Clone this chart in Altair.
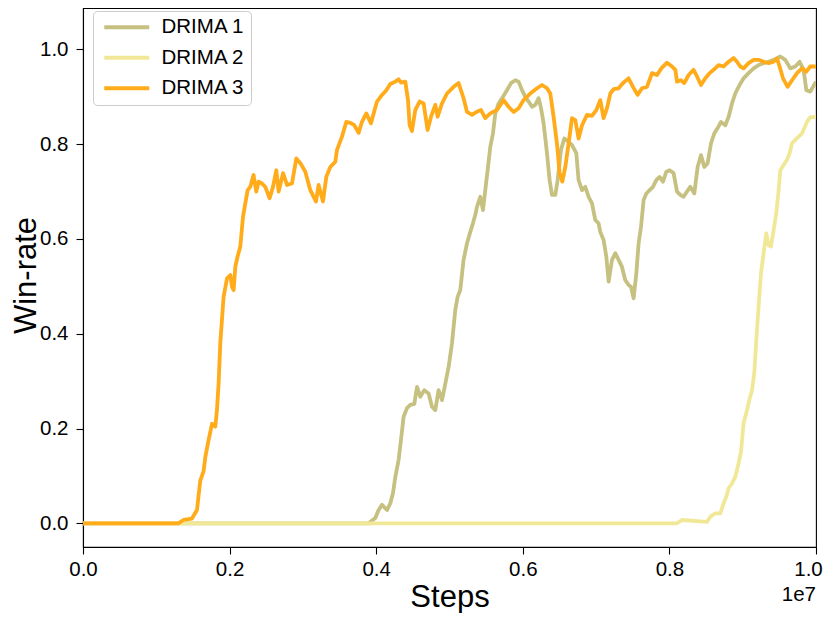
import altair as alt
import pandas as pd

series_names = ["DRIMA 1", "DRIMA 2", "DRIMA 3"]
series_colors = ["#c6c181", "#f1e897", "#ffab1a"]

# Steps in units of 1e7
drima1_steps = [0.0, 0.39, 0.392, 0.3988, 0.4033, 0.4079, 0.4147, 0.4192, 0.4229, 0.4261, 0.4306, 0.4338,
                0.4374, 0.442, 0.4465, 0.452, 0.4557, 0.4602, 0.4656, 0.4715, 0.4761, 0.4806, 0.4851, 0.4898,
                0.4943, 0.4988, 0.5034, 0.5079, 0.5111, 0.5147, 0.5192, 0.5239, 0.5284, 0.532, 0.5352, 0.5375,
                0.542, 0.5457, 0.5488, 0.552, 0.5557, 0.5593, 0.5625, 0.567, 0.573, 0.5784, 0.5839, 0.5898,
                0.5943, 0.5989, 0.6034, 0.6079, 0.6126, 0.617, 0.6216, 0.6248, 0.6284, 0.633, 0.6366, 0.6398,
                0.6443, 0.6475, 0.6521, 0.6566, 0.6625, 0.6671, 0.673, 0.6761, 0.6808, 0.6853, 0.6898, 0.6944,
                0.6989, 0.7034, 0.7057, 0.7102, 0.7139, 0.7171, 0.7217, 0.7262, 0.7307, 0.7353, 0.7398, 0.7443,
                0.7476, 0.7512, 0.7549, 0.758, 0.7613, 0.7648, 0.7685, 0.773, 0.7776, 0.7821, 0.7866, 0.7913,
                0.7958, 0.8003, 0.8057, 0.8104, 0.8149, 0.8194, 0.824, 0.8285, 0.834, 0.8385, 0.8431, 0.8476,
                0.8521, 0.8568, 0.8613, 0.8658, 0.8704, 0.8763, 0.8808, 0.8854, 0.8899, 0.8958, 0.9012, 0.908,
                0.9149, 0.9217, 0.9285, 0.9353, 0.9422, 0.9513, 0.9581, 0.9649, 0.9718, 0.9776, 0.9831, 0.9868,
                0.9922, 1.0]
drima1_winrate = [0.0, 0.0, 0.003, 0.011, 0.028, 0.039, 0.028, 0.042, 0.064, 0.098, 0.134, 0.176,
                  0.225, 0.243, 0.25, 0.252, 0.288, 0.267, 0.281, 0.274, 0.246, 0.239, 0.281, 0.26,
                  0.295, 0.33, 0.38, 0.45, 0.478, 0.492, 0.556, 0.591, 0.615, 0.633, 0.651, 0.668,
                  0.689, 0.661, 0.703, 0.745, 0.795, 0.823, 0.865, 0.886, 0.9, 0.914, 0.929, 0.935,
                  0.932, 0.914, 0.9, 0.89, 0.879, 0.883, 0.897, 0.876, 0.844, 0.781, 0.724, 0.693,
                  0.693, 0.724, 0.788, 0.812, 0.805, 0.798, 0.781, 0.724, 0.703, 0.71, 0.689, 0.675,
                  0.64, 0.633, 0.615, 0.598, 0.563, 0.51, 0.556, 0.57, 0.556, 0.541, 0.513, 0.503,
                  0.499, 0.475, 0.528, 0.591, 0.626, 0.682, 0.696, 0.703, 0.71, 0.724, 0.731, 0.721,
                  0.742, 0.745, 0.739, 0.7, 0.693, 0.689, 0.7, 0.71, 0.696, 0.752, 0.777, 0.752,
                  0.76, 0.802, 0.823, 0.834, 0.847, 0.84, 0.858, 0.886, 0.907, 0.925, 0.939, 0.95,
                  0.96, 0.967, 0.971, 0.974, 0.978, 0.985, 0.978, 0.96, 0.964, 0.974, 0.957, 0.914,
                  0.911, 0.932]

drima2_steps = [0.0, 0.81, 0.8172, 0.8513, 0.8558, 0.8626, 0.8694, 0.8739, 0.8776, 0.8808, 0.8854, 0.8899,
                0.8944, 0.8977, 0.9012, 0.9059, 0.909, 0.9127, 0.9158, 0.9186, 0.9217, 0.925, 0.9285, 0.9322,
                0.9353, 0.9386, 0.9422, 0.9458, 0.949, 0.9513, 0.9558, 0.9604, 0.964, 0.9673, 0.9718, 0.9763,
                0.9809, 0.9841, 0.9877, 0.9922, 1.0]
drima2_winrate = [0.0, 0.0, 0.007, 0.003, 0.014, 0.021, 0.021, 0.042, 0.056, 0.074, 0.084, 0.098,
                  0.127, 0.151, 0.211, 0.239, 0.26, 0.281, 0.317, 0.387, 0.457, 0.528, 0.57, 0.612,
                  0.587, 0.584, 0.619, 0.654, 0.703, 0.745, 0.756, 0.767, 0.781, 0.802, 0.809, 0.816,
                  0.823, 0.834, 0.847, 0.857, 0.857]

drima3_steps = [0.0, 0.13, 0.137, 0.1487, 0.1555, 0.16, 0.1645, 0.1669, 0.1714, 0.176, 0.1805, 0.1828,
                0.185, 0.1873, 0.1918, 0.1965, 0.201, 0.2033, 0.2055, 0.2078, 0.2109, 0.2146, 0.2183, 0.2214,
                0.2246, 0.2282, 0.2327, 0.2364, 0.2396, 0.2442, 0.2487, 0.2546, 0.2592, 0.2637, 0.2669, 0.2729,
                0.2783, 0.2851, 0.291, 0.2965, 0.3033, 0.3101, 0.3179, 0.3214, 0.3274, 0.3319, 0.3374, 0.3442,
                0.3465, 0.3533, 0.3592, 0.3647, 0.3701, 0.376, 0.3806, 0.3865, 0.3929, 0.3978, 0.4011, 0.4079,
                0.4138, 0.4192, 0.4261, 0.4306, 0.4338, 0.4397, 0.4434, 0.4456, 0.4488, 0.4533, 0.4592, 0.4647,
                0.4701, 0.4748, 0.4806, 0.4838, 0.4898, 0.4966, 0.5056, 0.5124, 0.5192, 0.5239, 0.5307, 0.5366,
                0.543, 0.5488, 0.5557, 0.5648, 0.5738, 0.5806, 0.5875, 0.5943, 0.6011, 0.6102, 0.6194, 0.6262,
                0.633, 0.6375, 0.642, 0.6467, 0.6502, 0.6539, 0.658, 0.6625, 0.6671, 0.6716, 0.6761, 0.6808,
                0.6876, 0.6944, 0.7003, 0.7057, 0.7102, 0.7149, 0.7194, 0.7239, 0.7307, 0.7367, 0.7443, 0.7503,
                0.7566, 0.7626, 0.7694, 0.7763, 0.7831, 0.789, 0.7967, 0.8035, 0.8081, 0.8104, 0.8158, 0.8203,
                0.8262, 0.833, 0.8377, 0.8431, 0.849, 0.8548, 0.8603, 0.8671, 0.8739, 0.8808, 0.8876, 0.8922,
                0.8967, 0.9012, 0.908, 0.9149, 0.9217, 0.9285, 0.9353, 0.9422, 0.9468, 0.9503, 0.955, 0.9613,
                0.9673, 0.9741, 0.9809, 0.9868, 0.9922, 1.0]
drima3_winrate = [0.0, 0.0, 0.007, 0.01, 0.028, 0.09, 0.11, 0.14, 0.176, 0.21, 0.204, 0.24,
                  0.295, 0.38, 0.478, 0.517, 0.524, 0.499, 0.492, 0.541, 0.563, 0.584, 0.647, 0.675,
                  0.703, 0.71, 0.735, 0.70, 0.721, 0.717, 0.71, 0.686, 0.71, 0.745, 0.70, 0.739,
                  0.714, 0.717, 0.77, 0.76, 0.742, 0.703, 0.679, 0.714, 0.679, 0.731, 0.752, 0.763,
                  0.788, 0.816, 0.847, 0.845, 0.84, 0.824, 0.847, 0.865, 0.844, 0.872, 0.89, 0.904,
                  0.914, 0.927, 0.932, 0.937, 0.93, 0.932, 0.893, 0.84, 0.828, 0.872, 0.89, 0.886,
                  0.83, 0.858, 0.883, 0.858, 0.886, 0.907, 0.921, 0.929, 0.897, 0.868, 0.862, 0.868,
                  0.872, 0.855, 0.865, 0.872, 0.893, 0.879, 0.868, 0.876, 0.893, 0.907, 0.918, 0.925,
                  0.918, 0.907, 0.858, 0.80, 0.739, 0.721, 0.752, 0.802, 0.855, 0.851, 0.812, 0.84,
                  0.862, 0.86, 0.872, 0.893, 0.855, 0.876, 0.907, 0.916, 0.918, 0.929, 0.939, 0.921,
                  0.904, 0.918, 0.921, 0.95, 0.946, 0.96, 0.972, 0.964, 0.957, 0.932, 0.935, 0.929,
                  0.946, 0.957, 0.943, 0.925, 0.939, 0.95, 0.957, 0.967, 0.964, 0.974, 0.982, 0.974,
                  0.964, 0.96, 0.971, 0.978, 0.978, 0.974, 0.971, 0.974, 0.981, 0.964, 0.939, 0.921,
                  0.935, 0.95, 0.96, 0.953, 0.964, 0.964]

x_ticks = [0.0, 0.2, 0.4, 0.6, 0.8, 1.0]
y_ticks = [0.0, 0.2, 0.4, 0.6, 0.8, 1.0]
offset_label = ["1e7"]

rows = []
for name, xs, ys in zip(series_names,
                        [drima1_steps, drima2_steps, drima3_steps],
                        [drima1_winrate, drima2_winrate, drima3_winrate]):
    for i, (xv, yv) in enumerate(zip(xs, ys)):
        rows.append({"series": name, "steps": xv, "winrate": yv, "idx": i})
df = pd.DataFrame(rows)

FONT = "Liberation Sans"
W, H = 733, 539
TICK_FS = 20.5
TITLE_FS = 31

lines = alt.Chart(df).mark_line(strokeWidth=3.8, clip=True, strokeJoin="round").encode(
    x=alt.X("steps:Q",
            scale=alt.Scale(domain=[0, 1], nice=False, zero=False),
            axis=alt.Axis(values=x_ticks, format=".1f", title="Steps",
                          labelPadding=5, labelFlush=False,
                          labelOffset={"condition": {"test": "datum.value == 1", "value": -8}, "value": 0},
                          titleX=W / 2, titleY=59,
                          titleBaseline="alphabetic", titleAlign="center")),
    y=alt.Y("winrate:Q",
            scale=alt.Scale(domain=[-0.05, 1.0874], nice=False, zero=False),
            axis=alt.Axis(values=y_ticks, format=".1f", title="Win-rate",
                          labelPadding=8, titleAngle=270, titleX=-48, titleY=267,
                          titleBaseline="alphabetic", titleAlign="center")),
    color=alt.Color("series:N",
                    scale=alt.Scale(domain=series_names, range=series_colors),
                    legend=alt.Legend(title=None, orient="none", legendX=10, legendY=3,
                                      symbolType="M-1,0H8", symbolSize=100, symbolStrokeWidth=4,
                                      symbolFillColor="transparent",
                                      labelFont=FONT, labelFontSize=TICK_FS, labelColor="black",
                                      labelOffset=42, padding=6, rowPadding=9.5,
                                      strokeColor="#cccccc", fillColor="rgba(255,255,255,0.8)",
                                      cornerRadius=4)),
    order="idx:Q",
)

offset_text = alt.Chart(pd.DataFrame({"t": offset_label})).mark_text(
    align="right", baseline="top", fontSize=TICK_FS, font=FONT, color="black"
).encode(text="t:N", x=alt.value(W), y=alt.value(577))

chart = alt.layer(lines, offset_text).properties(
    width=W, height=H,
    padding={"left": 75, "top": 0, "right": 7, "bottom": 66},
    autosize=alt.AutoSizeParams(type="none"),
).configure_view(
    stroke="black", strokeWidth=1.1
).configure_axis(
    domainColor="black", domainWidth=1.1, tickColor="black", tickWidth=1.1, tickSize=7,
    labelFont=FONT, labelFontSize=TICK_FS, labelColor="black",
    titleFont=FONT, titleFontSize=TITLE_FS, titleColor="black", titleFontWeight="normal",
    grid=False,
)

chart.save("out.html", embed_options={"renderer": "svg", "actions": False})
